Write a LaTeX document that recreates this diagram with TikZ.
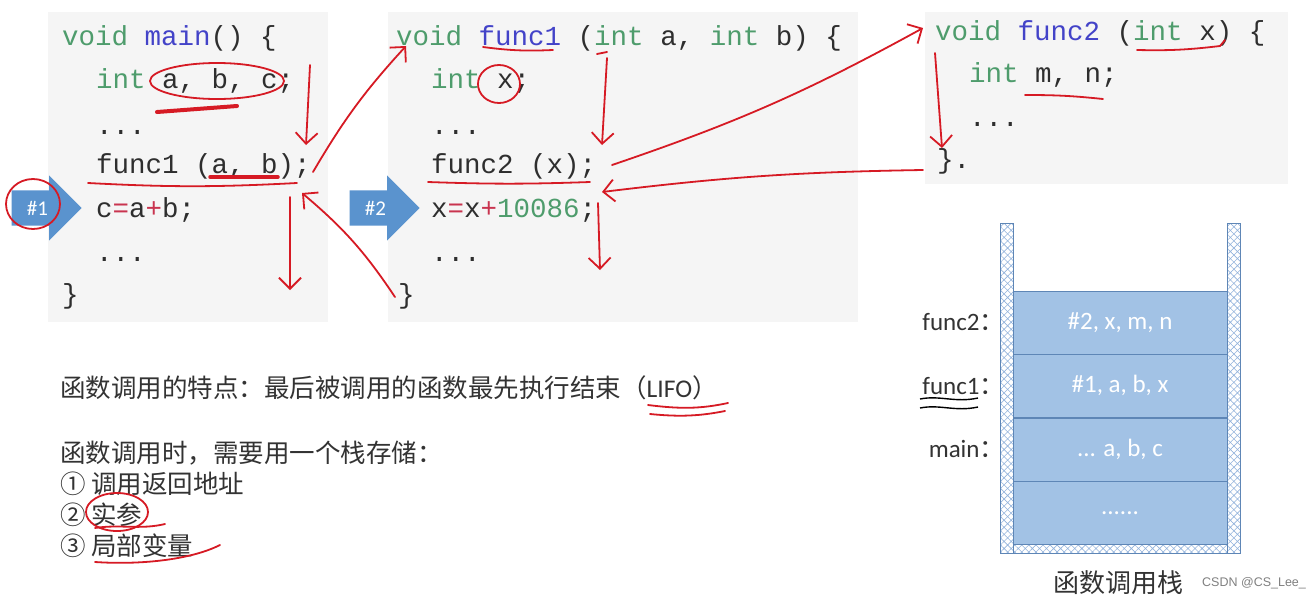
\documentclass[tikz,border=0pt]{standalone}
\usepackage{fontspec}
\setmainfont{Carlito}
\setmonofont{Liberation Mono}
\newfontfamily\cjk{Noto Sans CJK SC}
\newfontfamily\wmfont{Liberation Sans}
\usetikzlibrary{arrows.meta,positioning,shapes.arrows,patterns.meta}
\definecolor{codeGreen}{HTML}{4E9C6C}
\definecolor{codeBlue}{HTML}{4343C8}
\definecolor{codeRed}{HTML}{C9344F}
\definecolor{codeInk}{HTML}{2E2E2E}
\definecolor{codeBg}{HTML}{F5F5F5}
\definecolor{pcBlue}{HTML}{5A93CE}
\definecolor{stackFill}{HTML}{A2C2E5}
\definecolor{stackLine}{HTML}{5E86B6}
\definecolor{hatchBlue}{HTML}{93B3DC}
\definecolor{penRed}{HTML}{D61A24}
\definecolor{textGray}{HTML}{333333}

\newcommand{\kw}[1]{\textcolor{codeGreen}{#1}}
\newcommand{\fn}[1]{\textcolor{codeBlue}{#1}}
\newcommand{\op}[1]{\textcolor{codeRed}{#1}}

\begin{document}
\begin{tikzpicture}[
  x=1pt, y=-1pt,
  codeline/.style={anchor=mid west, yshift=-6pt, inner sep=0pt, text=codeInk, font=\ttfamily\fontsize{27.5}{30}\selectfont},
  pcarrow/.style={single arrow, fill=pcBlue, anchor=tip, inner xsep=0pt, inner ysep=17.5pt, minimum height=70pt, minimum width=65pt, single arrow head extend=15pt},
  pclabel/.style={text=white, inner sep=0pt, font=\fontsize{21}{24}\selectfont},
  stackcell/.style={draw=stackLine, fill=stackFill, minimum width=214pt, minimum height=63pt, inner sep=0pt, text=white, font=\fontsize{25}{30}\selectfont},
  sidelabel/.style={anchor=east, inner sep=0pt, text=textGray, font=\fontsize{25}{30}\selectfont},
  stackwall/.style={draw=stackLine, line width=0.6pt, pattern={Hatch[angle=45,distance=5pt,line width=0.6pt]}, pattern color=hatchBlue},
  notetext/.style={anchor=west, inner sep=0pt, text=textGray, font=\cjk\fontsize{25.5}{30}\selectfont},
  pen/.style={draw=penRed, line width=1.8pt, line cap=round, line join=round},
  penarrow/.style={pen, -{Straight Barb[length=11pt, width=22pt]}},
]
\useasboundingbox (0,0) rectangle (1316,598);
\fill[white] (0,0) rectangle (1316,598);

% code panels
\fill[codeBg] (48,12) rectangle (328,322);
\fill[codeBg] (388,12) rectangle (858,322);
\fill[codeBg] (925,12) rectangle (1288,184);

% main()
\node[codeline] (m1) at (62,37) {\kw{void} \fn{main}() \{};
\node[codeline] (m2) at (96,80) {\kw{int} a, b, c;};
\node[codeline] (m3) at (96,126) {...};
\node[codeline] (m4) at (96,165) {func1 (a, b);};
\node[codeline] (m5) at (96,209) {c\op{=}a\op{+}b;};
\node[codeline] (m6) at (96,253) {...};
\node[codeline] (m7) at (62,295) {\}};

% func1()
\node[codeline] (f1) at (396,37) {\kw{void} \fn{func1} (\kw{int} a, \kw{int} b) \{};
\node[codeline] (f2) at (431,80) {\kw{int} x;};
\node[codeline] (f3) at (431,126) {...};
\node[codeline] (f4) at (431,165) {func2 (x);};
\node[codeline] (f5) at (431,209) {x\op{=}x\op{+}\kw{10086};};
\node[codeline] (f6) at (431,253) {...};
\node[codeline] (f7) at (398,295) {\}};

% func2()
\node[codeline] (g1) at (935,32) {\kw{void} \fn{func2} (\kw{int} x) \{};
\node[codeline] (g2) at (969,74) {\kw{int} m, n;};
\node[codeline] (g3) at (969,118) {...};
\node[codeline] (g4) at (937,160) {\}.};

% return points
\node[pcarrow] (pc1) at (82,208) {};
\node[pclabel] (pc1txt) at ([xshift=26pt]pc1.tail) {\#1};
\node[pcarrow] (pc2) at (420,208) {};
\node[pclabel] (pc2txt) at ([xshift=26pt]pc2.tail) {\#2};

% stack
\path[stackwall] (1000,223) rectangle (1013,553);
\path[stackwall] (1227,223) rectangle (1240,553);
\path[stackwall] (1013,543) rectangle (1227,553);
\node[stackcell] (s1) at (1120,322.5) {\#2, x, m, n};
\node[stackcell, below=0pt of s1] (s2) {\#1, a, b, x};
\node[stackcell, below=0pt of s2] (s3) {... a, b, c};
\node[stackcell, below=0pt of s3] (s4) {......};
\node[sidelabel, left=8pt of s1] (l1) {func2{\cjk ：}};
\node[sidelabel, left=8pt of s2] (l2) {func1{\cjk ：}};
\node[sidelabel, left=8pt of s3] (l3) {main{\cjk ：}};
\node[text=textGray, font=\cjk\fontsize{26}{30}\selectfont] (cap) at (1118,583) {函数调用栈};
\node[anchor=west, inner sep=0pt, text=gray, font=\wmfont\fontsize{12.5}{14}\selectfont] (wm) at (1202,583) {CSDN @CS\_Lee\_};

% notes
\node[notetext] (n1) at (60,388) {函数调用的特点：最后被调用的函数最先执行结束（{\rmfamily LIFO}）};
\node[notetext] (n2) at (60,453) {函数调用时，需要用一个栈存储：};
\node[notetext] (n3) at (60,484) {① 调用返回地址};
\node[notetext] (n4) at (60,515) {② 实参};
\node[notetext] (n5) at (60,546) {③ 局部变量};

% pen marks
\coordinate (a1s) at (310,65);   \coordinate (a1e) at (306,145);
\coordinate (a2s) at (313,172);  \coordinate (a2e) at (406,46);
\coordinate (a3s) at (290,197);  \coordinate (a3e) at (290,290);
\coordinate (a4s) at (395,297);  \coordinate (a4e) at (302,193);
\coordinate (b1s) at (607,58);   \coordinate (b1e) at (602,145);
\coordinate (b2s) at (612,165);  \coordinate (b2e) at (923,28);
\coordinate (b3s) at (923,170);  \coordinate (b3e) at (602,192);
\coordinate (b4s) at (598,203);  \coordinate (b4e) at (600,270);
\coordinate (c1s) at (935,53);   \coordinate (c1e) at (942,148);

\draw[penarrow] (a1s) -- (a1e);
\draw[penarrow] (a2s) to[bend left=6] (a2e);
\draw[penarrow] (a3s) -- (a3e);
\draw[penarrow] (a4s) to[bend right=8] (a4e);
\draw[penarrow] (b1s) -- (b1e);
\draw[penarrow] (b2s) to[bend right=5] (b2e);
\draw[penarrow] (b3s) to[bend right=3] (b3e);
\draw[penarrow] (b4s) -- (b4e);
\draw[penarrow] (c1s) -- (c1e);

\draw[pen] (217,81) ellipse [x radius=67, y radius=18];
\draw[pen, line width=4pt] (157,112) -- (237,106);
\draw[pen] (88,183) to[bend right=3] (297,183);
\draw[pen, line width=3.5pt] (210,177) -- (278,177);
\draw[pen] (33,204) ellipse [x radius=27, y radius=25];
\draw[pen] (483,47) to[bend right=5] (553,50);
\draw[pen] (597,54) -- (607,52);
\draw[pen] (499,84) ellipse [x radius=21, y radius=19];
\draw[pen] (428,182) to[bend right=2] (590,182);
\draw[pen] (1137,50) to[bend right=4] (1220,46) -- (1225,40);
\draw[pen] (1025,95) to[bend left=3] (1103,99);
\draw[pen] (648,405) .. controls (680,409) and (700,409) .. (728,403);
\draw[pen] (650,414) .. controls (680,417) and (700,416) .. (725,411);
\draw[pen] (117,512) ellipse [x radius=31, y radius=19];
\draw[pen] (95,528) .. controls (120,524) and (140,530) .. (165,524);
\draw[pen] (95,562) .. controls (140,565) and (190,560) .. (220,545);
\draw[black, line width=1.4pt] (920,399) .. controls (940,395) and (955,403) .. (978,398);
\draw[black, line width=1.4pt] (920,408) .. controls (940,404) and (955,412) .. (978,407);
\end{tikzpicture}
\end{document}
